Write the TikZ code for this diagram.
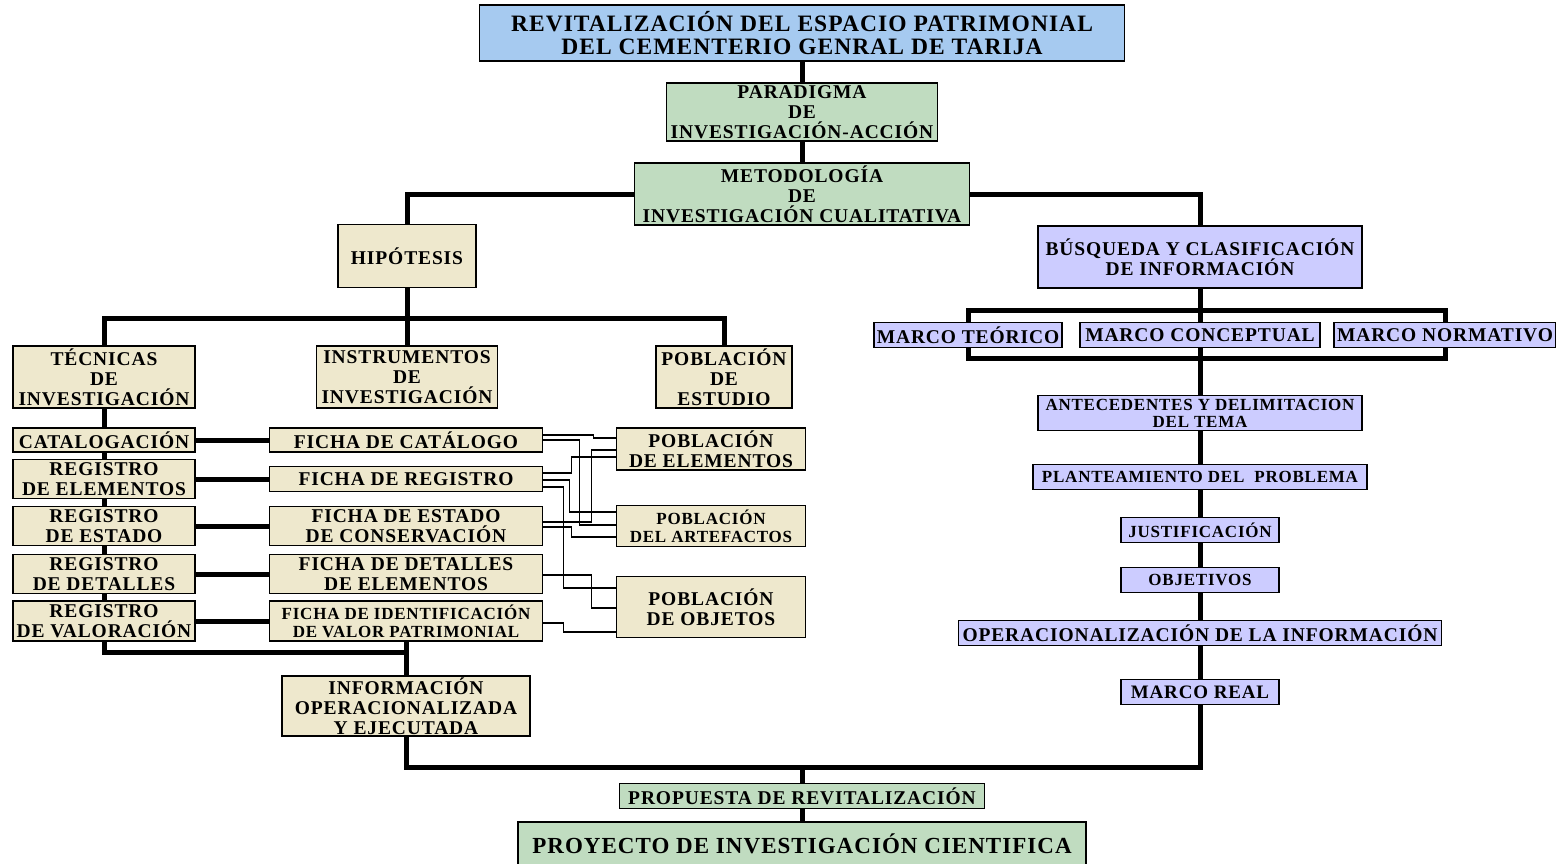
\documentclass[tikz,border=0pt]{standalone}
\usepackage{fontspec}
\setmainfont{Liberation Serif}[LetterSpace=4.5]
\usetikzlibrary{calc,backgrounds}
\definecolor{azul}{HTML}{A6CAF0}
\definecolor{verde}{HTML}{C0DCC0}
\definecolor{crema}{HTML}{EEE8CD}
\definecolor{lila}{HTML}{CCCCFF}
\newcommand{\fsz}[2]{\fontsize{#1}{#2}\selectfont}
\tikzset{
	caja/.style={draw=black, line width=1.5pt, align=center, inner sep=0pt, font=\bfseries\fsz{19.5}{20}},
	azulcaja/.style={caja, fill=azul},
	verdecaja/.style={caja, fill=verde},
	cremacaja/.style={caja, fill=crema},
	lilacaja/.style={caja, fill=lila},
	chico/.style={font=\bfseries\fsz{17}{18}},
	grueso/.style={line width=5pt},
	fino/.style={line width=1.3pt}
}

\begin{document}
\begin{tikzpicture}[x=1pt,y=-1pt]
			\useasboundingbox (0,0) rectangle (1556,864);
			% cabecera
			\node[azulcaja,minimum width=645,minimum height=56,font=\bfseries\fsz{23.5}{23}] (tit) at (802,33) {REVITALIZACIÓN DEL ESPACIO PATRIMONIAL\\DEL CEMENTERIO GENRAL DE TARIJA};
			\node[verdecaja,minimum width=271,minimum height=58] (par) at (802,112) {PARADIGMA\\DE\\INVESTIGACIÓN-ACCIÓN};
			\node[verdecaja,minimum width=335,minimum height=62] (met) at (802,194) {METODOLOGÍA\\DE\\INVESTIGACIÓN CUALITATIVA};
			\node[cremacaja,minimum width=138,minimum height=63] (hip) at (407,256) {HIPÓTESIS};
			\node[lilacaja,minimum width=324,minimum height=62] (bus) at (1200,257) {BÚSQUEDA Y CLASIFICACIÓN\\DE INFORMACIÓN};
			% rama izquierda
			\node[cremacaja,minimum width=182,minimum height=62] (tec) at (104,377) {TÉCNICAS\\DE\\INVESTIGACIÓN};
			\node[cremacaja,minimum width=181,minimum height=62] (inst) at (407,377) {INSTRUMENTOS\\DE\\INVESTIGACIÓN};
			\node[cremacaja,minimum width=136,minimum height=62] (pest) at (724,377) {POBLACIÓN\\DE\\ESTUDIO};
			\node[cremacaja,minimum width=182,minimum height=24] (cat) at (104,440) {CATALOGACIÓN};
			\node[cremacaja,minimum width=182,minimum height=39] (rele) at (104,479) {REGISTRO\\DE ELEMENTOS};
			\node[cremacaja,minimum width=182,minimum height=39] (rest) at (104,526) {REGISTRO\\DE ESTADO};
			\node[cremacaja,minimum width=182,minimum height=39] (rdet) at (104,574) {REGISTRO\\DE DETALLES};
			\node[cremacaja,minimum width=182,minimum height=40] (rval) at (104,621) {REGISTRO\\DE VALORACIÓN};
			\node[cremacaja,minimum width=273,minimum height=24] (fcat) at (406,440) {FICHA DE CATÁLOGO};
			\node[cremacaja,minimum width=273,minimum height=25] (freg) at (406,479) {FICHA DE REGISTRO};
			\node[cremacaja,minimum width=273,minimum height=39] (fest) at (406,526) {FICHA DE ESTADO\\DE CONSERVACIÓN};
			\node[cremacaja,minimum width=273,minimum height=39] (fdet) at (406,574) {FICHA DE DETALLES\\DE ELEMENTOS};
			\node[cremacaja,chico,minimum width=273,minimum height=40] (fid) at (406,621) {FICHA DE IDENTIFICACIÓN\\DE VALOR PATRIMONIAL};
			\node[cremacaja,minimum width=189,minimum height=42] (pele) at (711,449) {POBLACIÓN\\DE ELEMENTOS};
			\node[cremacaja,chico,minimum width=189,minimum height=41] (part) at (711,526) {POBLACIÓN\\DEL ARTEFACTOS};
			\node[cremacaja,minimum width=189,minimum height=61] (pobj) at (711,607) {POBLACIÓN\\DE OBJETOS};
			\node[cremacaja,minimum width=248,minimum height=60] (inf) at (406,706) {INFORMACIÓN\\OPERACIONALIZADA\\Y EJECUTADA};
			% rama derecha
			\node[lilacaja,minimum width=188,minimum height=25] (mteo) at (968,335) {MARCO TEÓRICO};
			\node[lilacaja,minimum width=240,minimum height=25] (mcon) at (1200,335) {MARCO CONCEPTUAL};
			\node[lilacaja,minimum width=222,minimum height=25] (mnor) at (1445,335) {MARCO NORMATIVO};
			\node[lilacaja,chico,minimum width=324,minimum height=35,font=\bfseries\fsz{17}{17}] (ante) at (1200,413) {ANTECEDENTES Y DELIMITACION\\DEL TEMA};
			\node[lilacaja,chico,minimum width=334,minimum height=25] (plan) at (1200,477) {PLANTEAMIENTO DEL\ \ PROBLEMA};
			\node[lilacaja,chico,minimum width=158,minimum height=25] (just) at (1200,530) {JUSTIFICACIÓN};
			\node[lilacaja,chico,minimum width=158,minimum height=25] (obje) at (1200,580) {OBJETIVOS};
			\node[lilacaja,minimum width=483,minimum height=25] (oper) at (1200,633) {OPERACIONALIZACIÓN DE LA INFORMACIÓN};
			\node[lilacaja,minimum width=158,minimum height=25,font=\bfseries\fsz{19}{19}] (mrea) at (1200,692) {MARCO REAL};
			% cierre
			\node[verdecaja,minimum width=365,minimum height=25] (prop) at (802,796) {PROPUESTA DE REVITALIZACIÓN};
			\node[verdecaja,minimum width=568,minimum height=44,font=\bfseries\fsz{23}{23}] (proy) at (802,844) {PROYECTO DE INVESTIGACIÓN CIENTIFICA};
			\begin{pgfonlayer}{background}
				\fill[white] (0,0) rectangle (1556,864);
				\draw[grueso] (tit.south) -- (par.north);
				\draw[grueso] (par.south) -- (met.north);
				\draw[grueso] (met.west) -| (hip.north);
				\draw[grueso] (met.east) -| (bus.north);
				\coordinate (hj) at (407,318);
				\draw[grueso] (hip.south) -- (hj) -- (inst.north);
				\draw[grueso] (tec.north) |- (hj) -| (pest.north);
				\foreach \a/\b in {tec/cat,cat/rele,rele/rest,rest/rdet,rdet/rval} {
					\draw[grueso] (\a.south) -- (\b.north);
				}
				\foreach \a/\b in {cat/fcat,rele/freg,rest/fest,rdet/fdet,rval/fid} {
					\draw[grueso] (\a.east) -- (\b.west);
				}
				\coordinate (ij) at (407,652);
				\draw[grueso] (rval.south) |- (ij);
				\draw[grueso] (fid.south) -- (inf.north);
				% lineas finas fichas - poblacion
				\draw[fino] ($(fcat.east)+(0,-5)$) -- ++(50,0) |- ($(pele.west)+(0,-11)$);
				\draw[fino] (fcat.east) -- ++(36,0) |- ($(part.west)+(0,-1)$);
				\draw[fino] ($(freg.east)+(0,-6)$) -- ++(28,0) |- ($(pele.west)+(0,8)$);
				\draw[fino] ($(freg.east)+(0,1)$) -- ++(26,0) |- ($(part.west)+(0,-14)$);
				\draw[fino] ($(freg.east)+(0,8)$) -- ++(20,0) |- ($(pobj.west)+(0,-19)$);
				\draw[fino] ($(fest.east)+(0,-4)$) -- ++(48,0) |- ($(pele.west)+(0,1)$);
				\draw[fino] ($(fest.east)+(0,1)$) -- ++(28,0) |- ($(part.west)+(0,11)$);
				\draw[fino] ($(fdet.east)+(0,1)$) -- ++(48,0) |- ($(pobj.west)+(0,1)$);
				\draw[fino] ($(fid.east)+(0,2)$) -- ++(20,0) |- ($(pobj.west)+(0,25)$);
				% derecha
				\draw[grueso] (bus.south) -- (mcon.north);
				\draw[grueso] ($(mteo)+(0,-25)$) rectangle ($(mnor)+(0,23)$);
				\foreach \a/\b in {mcon/ante,ante/plan,plan/just,just/obje,obje/oper,oper/mrea} {
					\draw[grueso] (\a.south) -- (\b.north);
				}
				\coordinate (bj) at (802,767);
				\draw[grueso] (inf.south) |- (bj) -| (mrea.south);
				\draw[grueso] (bj) -- (prop.north);
				\draw[grueso] (prop.south) -- (proy.north);
			\end{pgfonlayer}
		\end{tikzpicture}
\end{document}
